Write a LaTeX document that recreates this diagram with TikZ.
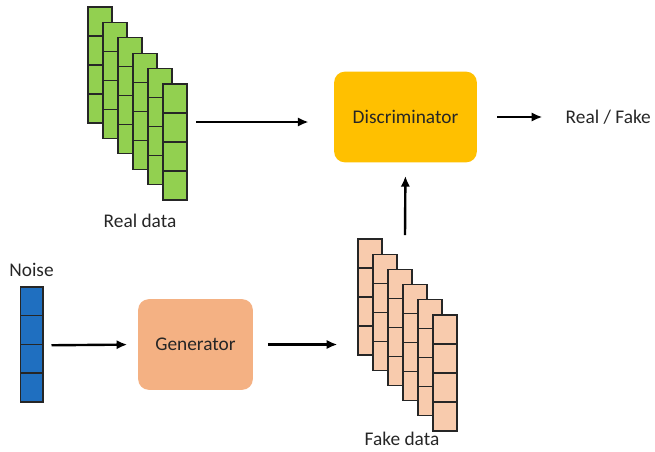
\documentclass[tikz,border=0pt]{standalone}
\usepackage{fontspec}
\setmainfont{Carlito}
\usetikzlibrary{calc,arrows.meta}
\definecolor{realgreen}{HTML}{92D050}
\definecolor{fakepeach}{HTML}{F8CBAD}
\definecolor{noiseblue}{HTML}{1F6FC0}
\definecolor{genorange}{HTML}{F4B183}
\definecolor{discgold}{HTML}{FFC000}
\definecolor{txtgray}{HTML}{262626}
\tikzset{
  cell/.style={draw=black!85,line width=1pt,minimum width=18pt,minimum height=21.75pt,inner sep=0pt},
  block/.style={rounded corners=8pt,minimum width=86pt,minimum height=68pt,text=txtgray},
  arr/.style={line width=1.8pt,-{Latex[length=8pt,width=7pt]}},
  lbl/.style={text=txtgray}
}
\begin{document}
\begin{tikzpicture}[x=0.75pt,y=-0.75pt,font=\fontsize{14.5}{17}\selectfont]
				\useasboundingbox (0,0) rectangle (655,451);
				\coordinate (R) at (100,21.5);
				\coordinate (F) at (370,253.5);
				\coordinate (realout) at (196,122);
				\coordinate (fakeout) at (405,235);

				\foreach \i in {0,...,5}
				  \foreach \j in {0,...,3}
				    \node[cell,fill=realgreen] (r\i\j) at ($(R)+(15*\i,15.4*\i+29*\j)$) {};
				\foreach \i in {0,...,5}
				  \foreach \j in {0,...,3}
				    \node[cell,fill=fakepeach] (f\i\j) at ($(F)+(15*\i,15.2*\i+29*\j)$) {};
				\foreach \j in {0,...,3}
				  \node[cell,fill=noiseblue,minimum width=17pt] (n\j) at (31.5,301.4+28.75*\j) {};

				\node at (195.5,344.5)[block,fill=genorange] (gen) {Generator};
				\node at (405.5,117)[block,fill=discgold,minimum width=107pt] (disc) {Discriminator};
				\node at (561,117)[lbl,anchor=west] (out) {Real / Fake};
				\node at (31.5,270)[lbl] (noise) {Noise};
				\node at (140,221)[lbl] (real) {Real data};
				\node at (402,439)[lbl] (fake) {Fake data};

				\draw[arr,shorten <=6pt,shorten >=8pt] (n1.south east)--(gen.west);
				\draw[arr,shorten <=11pt,shorten >=15pt] (gen.east)--(gen.east -| f00.west);
				\draw[arr,shorten >=10pt] (fakeout)--(disc.south);
				\draw[arr,shorten >=19pt] (realout)--(realout -| disc.west);
				\draw[arr,shorten <=15pt,shorten >=14pt] (disc.east)--(out.west);
			\end{tikzpicture}
\end{document}
